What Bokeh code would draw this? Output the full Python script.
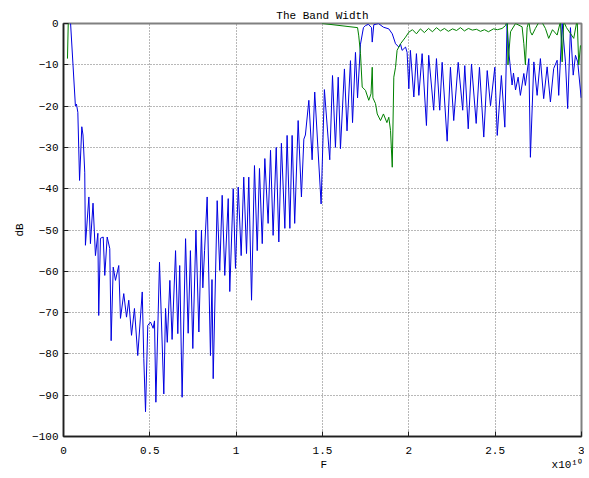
from bokeh.plotting import figure
from bokeh.models import FixedTicker
from bokeh.embed import file_html
from bokeh.resources import INLINE

# ---- data (F in units of 1e10 Hz, values in dB) ----
blue_F = [0.017, 0.041, 0.069, 0.075, 0.083, 0.093, 0.106, 0.113, 0.123, 0.127,
          0.147, 0.156, 0.171, 0.185, 0.199, 0.204, 0.214, 0.230, 0.239, 0.253,
          0.268, 0.276, 0.288, 0.301, 0.320, 0.330, 0.349, 0.365, 0.378, 0.394,
          0.411, 0.430, 0.456, 0.465, 0.475, 0.488, 0.504, 0.519, 0.527, 0.535,
          0.556, 0.581, 0.591, 0.601, 0.616, 0.629, 0.649, 0.662, 0.673, 0.687,
          0.707, 0.722, 0.735, 0.749, 0.767, 0.784, 0.799, 0.807, 0.817, 0.832,
          0.851, 0.860, 0.867, 0.890, 0.905, 0.919, 0.934, 0.954, 0.963, 0.983,
          0.996, 1.012, 1.029, 1.044, 1.060, 1.073, 1.089, 1.106, 1.122, 1.135,
          1.151, 1.166, 1.185, 1.199, 1.214, 1.232, 1.247, 1.262, 1.282, 1.295,
          1.311, 1.324, 1.339, 1.359, 1.378, 1.392, 1.401, 1.421, 1.440, 1.455,
          1.492, 1.511, 1.542, 1.558, 1.575, 1.591, 1.604, 1.627, 1.642, 1.662,
          1.674, 1.691, 1.703, 1.720, 1.737, 1.749, 1.766, 1.784, 1.788, 1.797,
          1.824, 1.853, 1.884, 1.904, 1.923, 1.942, 1.952, 1.961, 1.981, 1.990,
          2.000, 2.009, 2.029, 2.044, 2.058, 2.077, 2.102, 2.115, 2.144, 2.160,
          2.179, 2.193, 2.222, 2.241, 2.260, 2.286, 2.312, 2.324, 2.344, 2.363,
          2.390, 2.409, 2.434, 2.454, 2.473, 2.498, 2.512, 2.536, 2.556, 2.569,
          2.579, 2.598, 2.606, 2.618, 2.633, 2.646, 2.666, 2.675, 2.695, 2.704,
          2.724, 2.743, 2.762, 2.781, 2.801, 2.820, 2.839, 2.859, 2.868, 2.888,
          2.907, 2.920, 2.936, 2.952, 2.965, 2.978, 2.998]
blue_dB = [5.0, 0.0, -20.0, -19.5, -21.5, -38.0, -25.0, -27.0, -36.0, -53.7,
           -42.0, -53.3, -43.5, -56.2, -50.8, -70.7, -52.0, -51.7, -61.0, -51.7,
           -54.5, -76.8, -59.0, -62.2, -58.6, -71.4, -65.4, -71.1, -67.0, -75.5,
           -69.0, -80.4, -65.0, -81.1, -94.0, -73.1, -72.3, -73.8, -72.0, -91.7,
           -57.8, -89.7, -69.0, -77.2, -62.2, -76.5, -55.0, -75.1, -58.6, -90.5,
           -52.1, -75.0, -55.0, -78.7, -50.0, -74.7, -50.0, -64.0, -55.0, -42.0,
           -80.4, -62.0, -86.0, -42.9, -59.8, -41.6, -61.0, -42.4, -64.9, -40.0,
           -59.3, -39.6, -56.2, -37.2, -55.7, -37.2, -67.0, -34.4, -55.0, -35.1,
           -53.3, -32.7, -48.4, -30.7, -51.3, -30.0, -52.9, -29.0, -49.6, -27.1,
           -49.6, -27.1, -48.4, -23.5, -42.0, -28.0, -27.0, -18.6, -33.0, -16.6,
           -43.7, -16.0, -33.0, -12.6, -30.0, -13.0, -30.3, -11.0, -26.0, -9.0,
           -24.0, -7.0, -18.0, -5.0, -1.0, -0.5, -0.2, -1.0, -4.5, -0.3,
           0.0, -0.9, -1.3, -2.5, -4.9, -5.7, -5.0, -6.5, -5.7, -7.0,
           -15.8, -6.5, -17.8, -7.3, -17.4, -7.3, -24.7, -7.7, -21.0, -8.5,
           -21.0, -9.4, -28.5, -10.6, -23.5, -9.4, -21.0, -10.2, -25.5, -9.8,
           -24.2, -10.6, -27.5, -11.4, -19.9, -10.6, -27.1, -12.6, -25.1, 0.0,
           -6.9, -14.9, -12.0, -16.1, -13.0, -17.4, -12.1, -15.0, -8.5, -32.4,
           -9.3, -17.4, -8.5, -18.2, -10.5, -19.0, -10.9, -8.9, -17.4, 0.0,
           -9.3, -20.6, -1.0, -12.5, -7.7, -9.3, -18.0]

green_F = [0.023, 0.029, 1.490, 1.500, 1.703, 1.710, 1.720, 1.730, 1.749, 1.768,
           1.781, 1.788, 1.792, 1.807, 1.817, 1.836, 1.853, 1.873, 1.884, 1.894,
           1.904, 1.913, 1.923, 1.932, 1.952, 1.981, 2.000, 2.021, 2.044, 2.067,
           2.090, 2.114, 2.137, 2.160, 2.183, 2.206, 2.229, 2.253, 2.276, 2.299,
           2.322, 2.345, 2.368, 2.392, 2.415, 2.438, 2.461, 2.490, 2.513, 2.540,
           2.560, 2.571, 2.574, 2.589, 2.618, 2.656, 2.666, 2.675, 2.685, 2.695,
           2.704, 2.714, 2.733, 2.762, 2.791, 2.810, 2.832, 2.859, 2.878, 2.888,
           2.897, 2.913, 2.936, 2.955, 2.975, 2.984, 2.994]
green_dB = [-8.5, 3.0, 1.0, 0.0, -1.0, -3.0, -7.3, -15.4, -16.2, -18.6,
            -17.0, -10.6, -18.0, -19.4, -21.9, -23.5, -21.9, -24.0, -22.7, -25.9,
            -34.8, -13.0, -10.6, -6.5, -4.9, -3.3, -2.1, -1.5, -2.5, -1.3,
            -2.2, -1.2, -2.0, -1.0, -1.8, -1.2, -1.9, -1.3, -1.7, -1.0,
            -1.8, -1.2, -1.6, -1.4, -1.9, -1.5, -2.0, -1.3, -1.5, -1.2,
            -0.5, 1.0, -10.0, -2.0, 0.0, -0.8, -4.9, -10.0, -1.0, 0.5,
            -2.0, -2.8, -1.2, 1.0, -1.2, -3.6, -1.5, -2.8, 0.5, -9.3,
            0.5, -1.0, -2.4, -3.6, 1.0, -10.0, -5.3]

x_ticks = [0, 0.5, 1, 1.5, 2, 2.5, 3]
x_tick_labels = ["0", "0.5", "1", "1.5", "2", "2.5", "3"]
y_ticks = [-100, -90, -80, -70, -60, -50, -40, -30, -20, -10, 0]
x_label = "F"
x_exponent = "x10\u00b9\u2070"   # x10^10

FONT = "Liberation Mono"
NBSP = "\u00a0"

p = figure(width=584, height=476, x_range=(0, 3), y_range=(-100, 0),
           output_backend="svg", toolbar_location=None,
           min_border_left=63, min_border_right=3, min_border_top=23,
           min_border_bottom=40)

p.line(blue_F, blue_dB, line_color="#0000e0", line_width=1)
p.line(green_F, green_dB, line_color="#008000", line_width=1)

# title
p.title.text = "The Band Width"
p.title.text_font = FONT
p.title.text_font_size = "11px"
p.title.text_font_style = "normal"
p.title.text_color = "black"
p.title.align = "center"
p.title.standoff = 3

# axes
for ax in (p.xaxis[0], p.yaxis[0]):
    ax.major_label_text_font = FONT
    ax.major_label_text_font_size = "11px"
    ax.major_label_text_color = "black"
    ax.axis_label_text_font = FONT
    ax.axis_label_text_font_size = "11px"
    ax.axis_label_text_font_style = "normal"
    ax.axis_label_text_color = "black"
    ax.axis_line_color = "#202020"
    ax.axis_line_width = 1.5
    ax.major_tick_in = 5
    ax.major_tick_out = 0
    ax.minor_tick_line_color = None
    ax.major_tick_line_color = "#202020"

p.xaxis.ticker = FixedTicker(ticks=x_ticks)
p.xaxis.major_label_overrides = {t: l for t, l in zip(x_ticks, x_tick_labels)}
p.xaxis.major_label_standoff = 10
# "F" stays centred under the frame; the exponent "x10^10" sits at the right
p.xaxis.axis_label = NBSP * 39 + x_label + NBSP * 34 + x_exponent
p.xaxis.axis_label_standoff = 2

p.yaxis.ticker = FixedTicker(ticks=y_ticks)
p.yaxis.major_label_standoff = 5
p.yaxis.axis_label = "dB"
p.yaxis.axis_label_standoff = 3

p.grid.grid_line_color = "#707070"
p.grid.grid_line_dash = "1 2"
p.grid.grid_line_width = 1

p.outline_line_color = "#808080"
p.outline_line_width = 2
p.background_fill_color = "white"
p.border_fill_color = "white"

open("out.html", "w").write(file_html(p, INLINE))
